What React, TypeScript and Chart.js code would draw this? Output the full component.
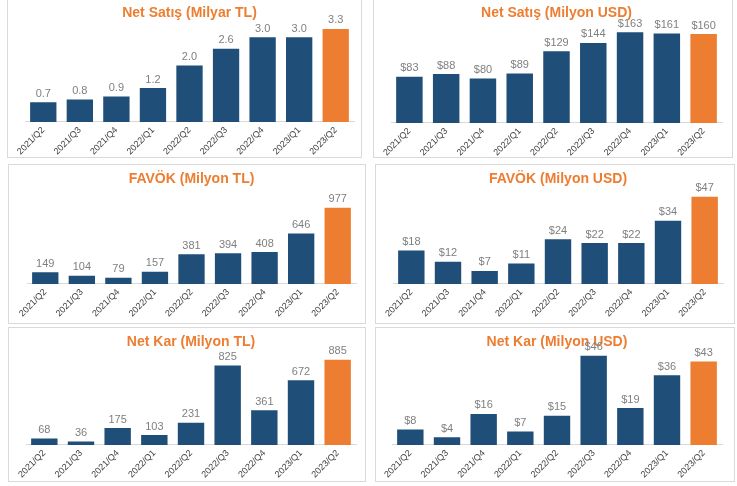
import React, { useEffect, useRef } from "react";
import { Chart, registerables } from "chart.js";

Chart.register(...registerables);

const categories = ["2021/Q2", "2021/Q3", "2021/Q4", "2022/Q1", "2022/Q2", "2022/Q3", "2022/Q4", "2023/Q1", "2023/Q2"];
const netSalesTL = [0.7, 0.8, 0.9, 1.2, 2.0, 2.6, 3.0, 3.0, 3.3];
const netSalesUSD = [83, 88, 80, 89, 129, 144, 163, 161, 160];
const ebitdaTL = [149, 104, 79, 157, 381, 394, 408, 646, 977];
const ebitdaUSD = [18, 12, 7, 11, 24, 22, 22, 34, 47];
const netProfitTL = [68, 36, 175, 103, 231, 825, 361, 672, 885];
const netProfitUSD = [8, 4, 16, 7, 15, 46, 19, 36, 43];

const BLUE = "#1F4E79";
const ORANGE = "#ED7D31";
const FONT = "'Liberation Sans', Arial, sans-serif";

type Panel = {
  title: string;
  data: number[];
  prefix: string;
  decimals: number;
  yMax: number;
  left: number;
  top: number;
  right: number;
  bottom: number;
  padL: number;
  padR: number;
  padB: number;
};

const panels: Panel[] = [
  { title: "Net Satış (Milyar TL)", data: netSalesTL, prefix: "", decimals: 1, yMax: 3.41, left: 7, top: -2, right: 361, bottom: 157, padL: 17, padR: 7, padB: -3 },
  { title: "Net Satış (Milyon USD)", data: netSalesUSD, prefix: "$", decimals: 0, yMax: 174.8, left: 373, top: -2, right: 732, bottom: 157, padL: 17, padR: 10, padB: -4 },
  { title: "FAVÖK (Milyon TL)", data: ebitdaTL, prefix: "", decimals: 0, yMax: 1180, left: 8, top: 164, right: 365, bottom: 323, padL: 18, padR: 9, padB: 1 },
  { title: "FAVÖK (Milyon USD)", data: ebitdaUSD, prefix: "$", decimals: 0, yMax: 49.6, left: 375, top: 164, right: 734, bottom: 323, padL: 17, padR: 11, padB: 1 },
  { title: "Net Kar (Milyon TL)", data: netProfitTL, prefix: "", decimals: 0, yMax: 937, left: 8, top: 327, right: 365, bottom: 481, padL: 17, padR: 9, padB: -2 },
  { title: "Net Kar (Milyon USD)", data: netProfitUSD, prefix: "$", decimals: 0, yMax: 46.5, left: 375, top: 327, right: 734, bottom: 481, padL: 16, padR: 12, padB: -2 },
];

const valueLabels = {
  id: "valueLabels",
  afterDatasetsDraw(chart: any, _args: any, opts: any) {
    const ctx = chart.ctx;
    const meta = chart.getDatasetMeta(0);
    const data = chart.data.datasets[0].data as number[];
    ctx.save();
    ctx.font = `11px ${FONT}`;
    ctx.fillStyle = "#7F7F7F";
    ctx.textAlign = "center";
    ctx.textBaseline = "bottom";
    meta.data.forEach((bar: any, i: number) => {
      const v = data[i];
      const txt = (opts.prefix || "") + v.toFixed(opts.decimals || 0);
      ctx.fillText(txt, bar.x, bar.y - 3);
    });
    ctx.restore();
  },
};

function BarPanel({ p }: { p: Panel }) {
  const ref = useRef<HTMLCanvasElement | null>(null);
  const w = p.right - p.left + 1;
  const h = p.bottom - p.top + 1;
  useEffect(() => {
    if (!ref.current) return;
    const colors = p.data.map((_, i) => (i === p.data.length - 1 ? ORANGE : BLUE));
    const chart = new Chart(ref.current, {
      type: "bar",
      data: {
        labels: categories,
        datasets: [
          {
            data: p.data,
            backgroundColor: colors,
            borderWidth: 0,
            barPercentage: 0.72,
            categoryPercentage: 1,
          },
        ],
      },
      options: {
        responsive: false,
        animation: false,
        layout: { padding: { left: p.padL, right: p.padR, top: 0, bottom: p.padB } },
        plugins: {
          legend: { display: false },
          tooltip: { enabled: false },
          title: {
            display: true,
            text: p.title,
            color: ORANGE,
            font: { family: FONT, size: 14, weight: "bold" },
            padding: { top: 6, bottom: 4 },
          },
          valueLabels: { prefix: p.prefix, decimals: p.decimals },
        } as any,
        scales: {
          x: {
            grid: { display: false, drawTicks: false },
            border: { display: true, color: "#D9D9D9", width: 1 },
            ticks: {
              maxRotation: 45,
              minRotation: 45,
              color: "#404040",
              padding: 3,
              font: { family: FONT, size: 9 },
            },
          },
          y: {
            display: false,
            min: 0,
            max: p.yMax,
          },
        },
      },
      plugins: [valueLabels],
    });
    return () => chart.destroy();
  }, []);
  return (
    <div
      style={{
        position: "absolute",
        left: p.left,
        top: p.top,
        width: w,
        height: h,
        boxSizing: "border-box",
        border: "1px solid #D9D9D9",
        background: "#fff",
      }}
    >
      <canvas ref={ref} width={w - 2} height={h - 2} style={{ display: "block", width: w - 2, height: h - 2 }} />
    </div>
  );
}

export default function App() {
  return (
    <div style={{ position: "fixed", left: 0, top: 0, width: 737, height: 486, background: "#fff", overflow: "hidden" }}>
      {panels.map((p, i) => (
        <BarPanel key={i} p={p} />
      ))}
    </div>
  );
}
